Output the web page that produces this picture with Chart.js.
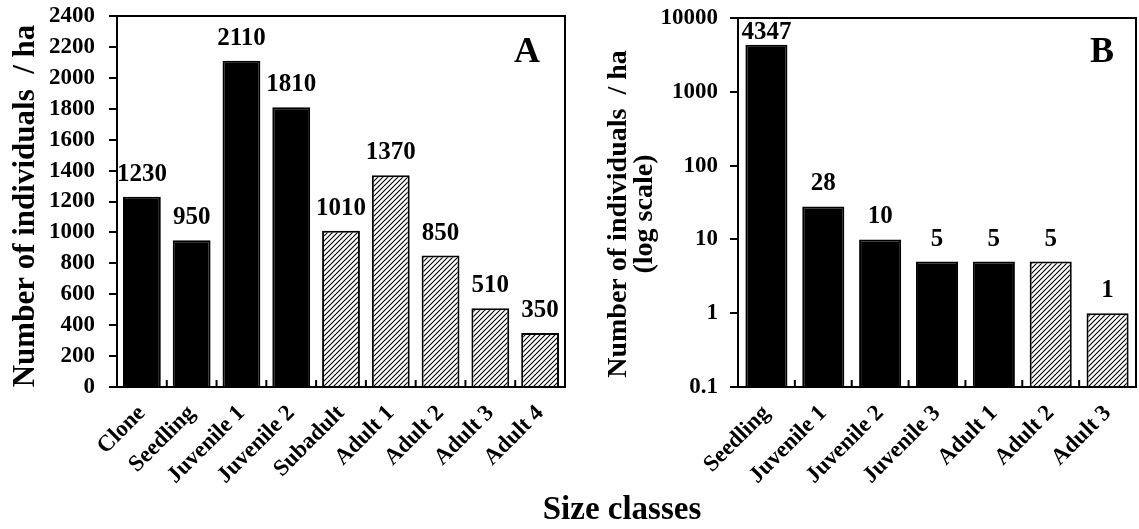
<!DOCTYPE html>
<html>
<head>
<meta charset="utf-8">
<script src="https://cdn.jsdelivr.net/npm/chart.js@4/dist/chart.umd.min.js"></script>
<style>
  html, body { margin: 0; padding: 0; background: #fff; }
  #wrap { position: relative; width: 1139px; height: 529px; overflow: hidden; }
  #boxA { position: absolute; left: 0; top: 0; width: 575px; height: 529px; }
  #boxB { position: absolute; left: 570px; top: 0; width: 569px; height: 529px; }
  #xTitle {
    position: absolute; left: 472px; top: 490px; width: 300px; text-align: center;
    font: bold 33px "Liberation Serif", "Times New Roman", serif; color: #000;
  }
</style>
</head>
<body>
<div id="wrap">
  <div id="boxA"><canvas id="chartA"></canvas></div>
  <div id="boxB"><canvas id="chartB"></canvas></div>
  <div id="xTitle">Size classes</div>
</div>
<script>
const SERIF = '"Liberation Serif", "Times New Roman", serif';

// panel A
const classesA = ["Clone", "Seedling", "Juvenile 1", "Juvenile 2", "Subadult", "Adult 1", "Adult 2", "Adult 3", "Adult 4"];
const densityA = [1230, 950, 2110, 1810, 1010, 1370, 850, 510, 350];
const hatchA = [false, false, false, false, true, true, true, true, true];
const ticksA = [0, 200, 400, 600, 800, 1000, 1200, 1400, 1600, 1800, 2000, 2200, 2400];

// panel B
const classesB = ["Seedling", "Juvenile 1", "Juvenile 2", "Juvenile 3", "Adult 1", "Adult 2", "Adult 3"];
const densityB = [4347, 28, 10, 5, 5, 5, 1];
const hatchB = [false, false, false, false, false, true, true];
const ticksB = [0.1, 1, 10, 100, 1000, 10000];

function makeHatch() {
  const c = document.createElement("canvas");
  c.width = 5;
  c.height = 5;
  const g = c.getContext("2d");
  g.fillStyle = "#fff";
  g.fillRect(0, 0, 5, 5);
  g.strokeStyle = "#000";
  g.lineWidth = 1.1;
  g.beginPath();
  g.moveTo(-1, 6); g.lineTo(6, -1);
  g.moveTo(-1, 1); g.lineTo(1, -1);
  g.moveTo(4, 6); g.lineTo(6, 4);
  g.stroke();
  return g.createPattern(c, "repeat");
}
const hatch = makeHatch();

// value labels, frame, inward x ticks, axis title and panel letter
const decorPlugin = {
  id: "decor",
  afterDatasetsDraw(chart, args, opts) {
    const ctx = chart.ctx;
    const area = chart.chartArea;
    const x = chart.scales.x;
    ctx.save();

    ctx.strokeStyle = "#000";
    ctx.lineWidth = 2;
    ctx.strokeRect(area.left, area.top, area.right - area.left, area.bottom - area.top);

    ctx.beginPath();
    for (let i = 1; i < chart.data.labels.length; i++) {
      const px = (x.getPixelForValue(i - 1) + x.getPixelForValue(i)) / 2;
      ctx.moveTo(px, area.bottom);
      ctx.lineTo(px, area.bottom - 7);
    }
    ctx.stroke();

    ctx.fillStyle = "#000";
    ctx.font = "bold 25px " + SERIF;
    ctx.textAlign = "center";
    ctx.textBaseline = "alphabetic";
    const meta = chart.getDatasetMeta(0);
    meta.data.forEach((bar, i) => {
      let y = bar.y - 16;
      if (y - 17 < area.top) y = area.top + 21;
      ctx.fillText(String(chart.data.datasets[0].data[i]), bar.x, y);
    });

    ctx.font = "bold 36px " + SERIF;
    ctx.fillText(opts.letter, opts.letterX, 62);

    ctx.font = "bold " + opts.titleSize + "px " + SERIF;
    ctx.textBaseline = "middle";
    opts.title.forEach((line, k) => {
      ctx.save();
      ctx.translate(opts.titleX[k], opts.titleY);
      ctx.rotate(-Math.PI / 2);
      ctx.fillText(line, 0, 0);
      ctx.restore();
    });
    ctx.restore();
  }
};

function barOptions(yScale, leftWidth, padRight, padTop, decor) {
  return {
    responsive: true,
    maintainAspectRatio: false,
    animation: false,
    layout: { padding: { left: 0, right: padRight, top: padTop, bottom: 0 } },
    plugins: {
      legend: { display: false },
      tooltip: { enabled: false },
      decor: decor
    },
    scales: {
      x: {
        offset: true,
        grid: { display: false },
        border: { display: true, color: "#000", width: 2 },
        ticks: {
          color: "#000",
          font: { family: SERIF, size: 23, weight: "bold" },
          minRotation: 45,
          maxRotation: 45,
          padding: 5,
          autoSkip: false
        },
        afterFit: s => {
          s.height = 529 - 387;
          s.paddingLeft = 0;
          s.paddingRight = 0;
        }
      },
      y: Object.assign({
        border: { display: true, color: "#000", width: 2 },
        grid: { drawOnChartArea: false, drawTicks: true, tickLength: 8, color: "#000", lineWidth: 2 },
        afterFit: s => {
          s.width = leftWidth;
          s.paddingTop = 0;
          s.paddingBottom = 0;
        }
      }, yScale)
    }
  };
}

new Chart(document.getElementById("chartA"), {
  type: "bar",
  data: {
    labels: classesA,
    datasets: [{
      data: densityA,
      backgroundColor: hatchA.map(h => h ? hatch : "#000"),
      borderColor: "#000",
      borderWidth: 2,
      barPercentage: 0.76,
      categoryPercentage: 1
    }]
  },
  options: barOptions({
    min: 0,
    max: 2400,
    afterBuildTicks: s => { s.ticks = ticksA.map(v => ({ value: v })); },
    ticks: {
      color: "#000",
      padding: 14,
      autoSkip: false,
      font: { family: SERIF, size: 23, weight: "bold" },
      callback: v => String(v)
    }
  }, 117, 10, 16, {
    letter: "A", letterX: 527,
    title: ["Number of individuals  / ha"], titleX: [26], titleY: 206, titleSize: 31
  }),
  plugins: [decorPlugin]
});

new Chart(document.getElementById("chartB"), {
  type: "bar",
  data: {
    labels: classesB,
    datasets: [{
      data: densityB,
      backgroundColor: hatchB.map(h => h ? hatch : "#000"),
      borderColor: "#000",
      borderWidth: 2,
      barPercentage: 0.74,
      categoryPercentage: 1
    }]
  },
  options: barOptions({
    type: "logarithmic",
    min: 0.1,
    max: 10000,
    afterBuildTicks: s => { s.ticks = ticksB.map(v => ({ value: v })); },
    ticks: {
      color: "#000",
      padding: 12,
      autoSkip: false,
      font: { family: SERIF, size: 23, weight: "bold" },
      callback: v => String(v)
    }
  }, 168, 3, 18, {
    letter: "B", letterX: 532,
    title: ["Number of individuals  / ha", "(log scale)"], titleX: [49, 75], titleY: 214, titleSize: 28
  }),
  plugins: [decorPlugin]
});
</script>
</body>
</html>
